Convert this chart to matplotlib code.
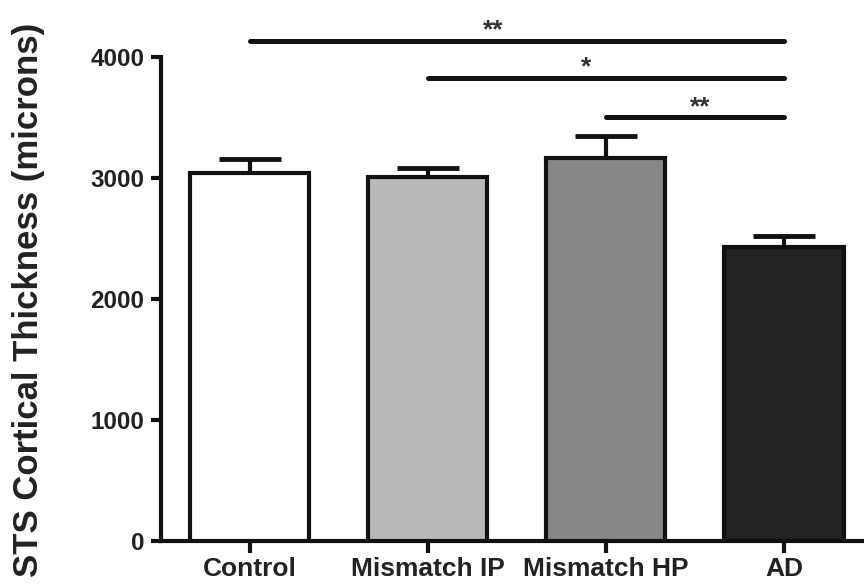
import numpy as np
import matplotlib
matplotlib.use("Agg")
import matplotlib.pyplot as plt

plt.rcParams['font.family'] = ['Liberation Sans', 'DejaVu Sans']
plt.rcParams['font.weight'] = 'bold'

groups = ['Control', 'Mismatch IP', 'Mismatch HP', 'AD']
means = [3045, 3010, 3165, 2430]
sems = [110, 75, 180, 90]
colors = ['#ffffff', '#b9b9b9', '#878787', '#222222']

# significance brackets: (from, to, label, height, label x)
sig_from = [0, 1, 2]
sig_to = [3, 3, 3]
sig_text = ['**', '*', '**']
sig_y = [4135, 3830, 3500]
sig_text_x = [1.37, 1.89, 2.53]

fig = plt.figure(figsize=(8.64, 5.85), dpi=100)
ax = fig.add_axes([161 / 864, 44 / 585, 703 / 864, 541 / 585])

x = np.arange(len(groups))
ax.bar(x, means, width=0.67, color=colors, edgecolor='#111111', linewidth=3, zorder=3)
ax.errorbar(x, means, yerr=[np.zeros(len(sems)), sems], fmt='none', ecolor='#111111',
            elinewidth=3, capsize=22, capthick=3.5, zorder=2)

for a, b, t, y, tx in zip(sig_from, sig_to, sig_text, sig_y, sig_text_x):
    ax.plot([a, b], [y, y], color='#111111', lw=3.6, solid_capstyle='round', zorder=4)
    ax.text(tx, y + 30, t, ha='center', va='baseline', fontsize=19, fontweight='bold', color='#333333')

ax.set_xlim(-0.497, 3.45)
ax.set_ylim(0, 4471)
ax.set_yticks([0, 1000, 2000, 3000, 4000])
ax.set_xticks(x)
ax.set_xticklabels(groups)
ax.spines['left'].set_bounds(0, 4000)
ax.spines['top'].set_visible(False)
ax.spines['right'].set_visible(False)
for s in ['left', 'bottom']:
    ax.spines[s].set_linewidth(3)
    ax.spines[s].set_color('#111111')
ax.tick_params(axis='y', length=7, width=3, pad=5, labelsize=17.5, colors='#111111')
ax.tick_params(axis='x', length=8.5, width=3, pad=3, labelsize=19, colors='#111111')
for lab in ax.get_xticklabels() + ax.get_yticklabels():
    lab.set_fontweight('bold')
    lab.set_color('#222222')

ax.set_ylabel('STS Cortical Thickness (microns)', fontsize=25, fontweight='bold', color='#222222')
ax.yaxis.set_label_coords(-0.165, 0.445)

fig.savefig('out.png', dpi=100)
